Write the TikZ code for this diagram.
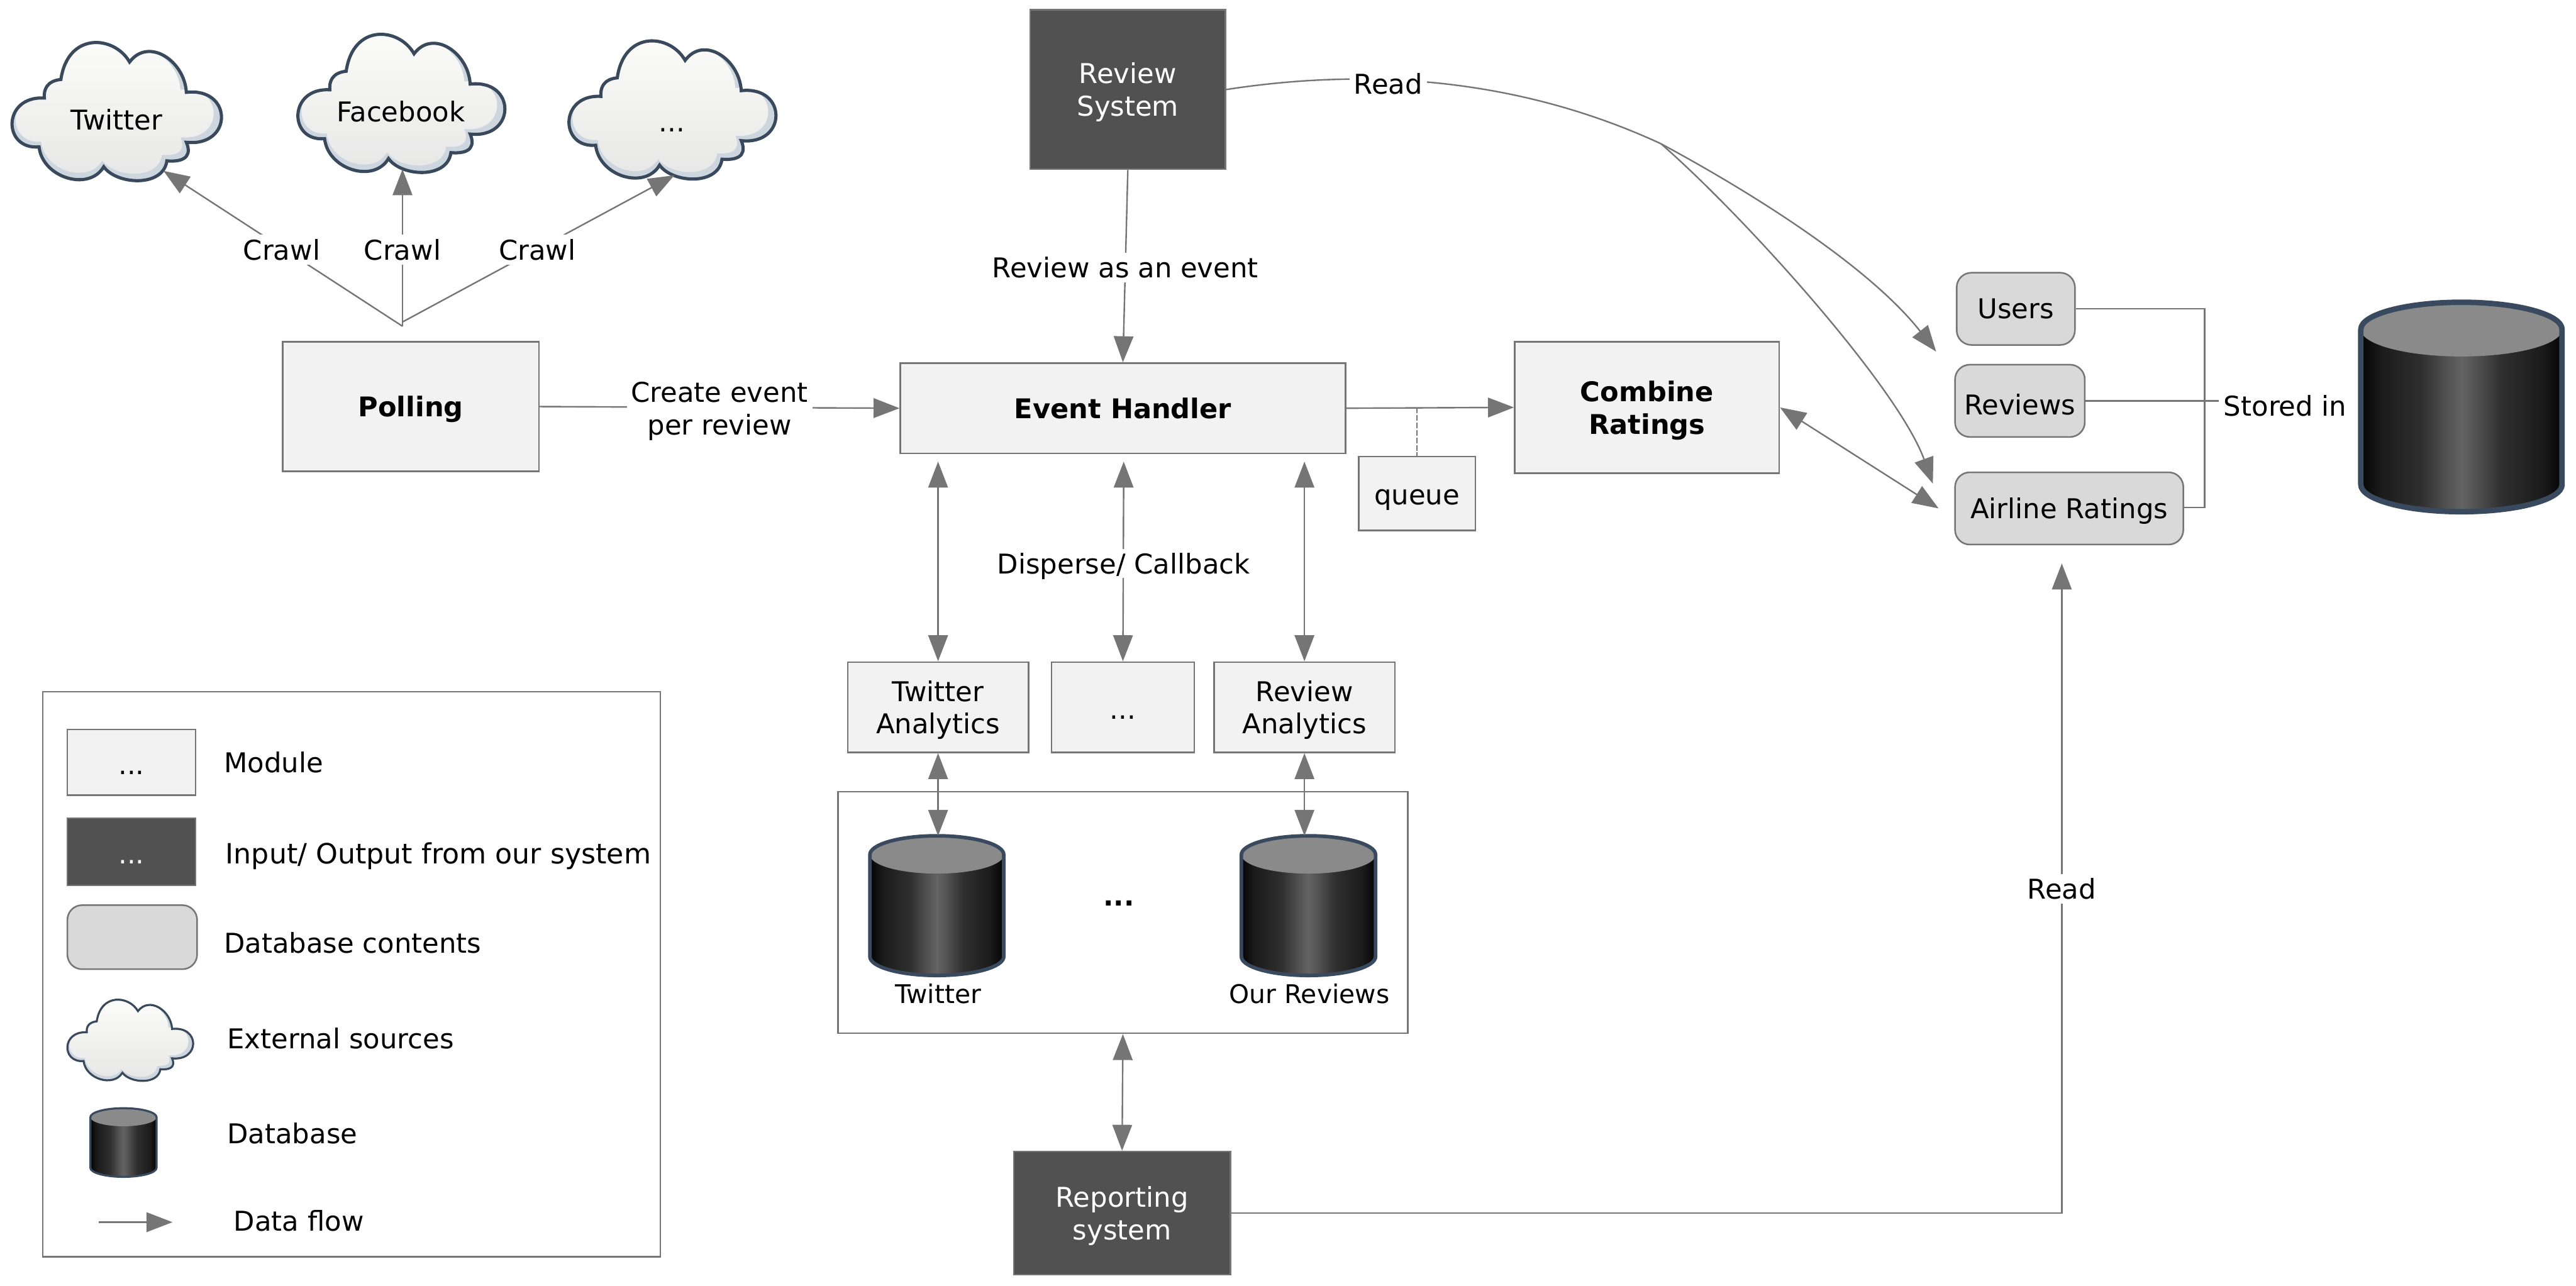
\documentclass[tikz,border=0pt]{standalone}
\usepackage{fontspec}
\setmainfont{DejaVu Sans}
\usetikzlibrary{arrows.meta}
\definecolor{linecol}{HTML}{757575}
\definecolor{modfill}{HTML}{F2F2F2}
\definecolor{darkfill}{HTML}{515151}
\definecolor{dbfill}{HTML}{D9D9D9}
\definecolor{cloudedge}{HTML}{39495B}
\definecolor{cloudshadow}{HTML}{CDD6DF}
\definecolor{cloudtop}{HTML}{FDFDFB}
\definecolor{cloudbot}{HTML}{E6E6E6}
\definecolor{cyledge}{HTML}{3A4A5E}
\definecolor{cyltop}{HTML}{8A8A8A}
\definecolor{cyla}{HTML}{040404}
\definecolor{cylb}{HTML}{1B1B1B}
\definecolor{cylc}{HTML}{2F2F2F}
\definecolor{cyld}{HTML}{555555}
\definecolor{cyle}{HTML}{636363}
\pgfdeclarehorizontalshading{dbside}{100bp}{color(0bp)=(cyla); color(25bp)=(cyla); color(30bp)=(cylb); color(40bp)=(cylc); color(47bp)=(cyld); color(50bp)=(cyle); color(53bp)=(cyld); color(60bp)=(cylc); color(70bp)=(cylb); color(75bp)=(cyla); color(100bp)=(cyla)}
\tikzset{
  every node/.style={font=\fontsize{9.45}{11.3}\selectfont, inner sep=0pt, align=center},
  modbox/.style={rectangle, draw=linecol, line width=.55pt, fill=modfill},
  darkbox/.style={rectangle, draw=linecol, line width=.55pt, fill=darkfill, text=white},
  dbbox/.style={rectangle, rounded corners=0.18cm, draw=linecol, line width=.55pt, fill=dbfill},
  frame/.style={rectangle, draw=linecol, line width=.55pt, fill=white},
  wire/.style={draw=linecol, line width=.52pt},
  flow/.style={wire, -{Triangle[length=9pt,width=6.8pt]}},
  flowboth/.style={wire, {Triangle[length=9pt,width=6.8pt]}-{Triangle[length=9pt,width=6.8pt]}},
  lab/.style={fill=white, inner sep=1.5pt},
  plain/.style={anchor=west},
  heavy/.style={font=\fontsize{9.4}{11.3}\selectfont\bfseries},
  lowtext/.style={text depth=0pt},
  dotstext/.style={text height=8.3pt,text depth=0pt},
  dbcaption/.style={font=\fontsize{8.9}{11.3}\selectfont},
}
\newcommand\cloudcurve{(.159,.408) .. controls (-.04,.39) and (-.04,.78) .. (.134,.758)
  .. controls (.15,.98) and (.37,1.08) .. (.439,.900)
  .. controls (.50,1.03) and (.72,1.05) .. (.737,.858)
  .. controls (.84,.87) and (.85,.80) .. (.829,.725)
  .. controls (1.05,.76) and (1.05,.33) .. (.829,.367)
  .. controls (.82,.14) and (.65,-.03) .. (.561,.150)
  .. controls (.49,-.04) and (.27,-.07) .. (.237,.275)
  .. controls (.17,.285) and (.155,.35) .. (.159,.408) -- cycle}
\newcommand\cloudshape[5]{% x y w h linewidth
  \begin{scope}[shift={(#1,#2)},xscale=#3,yscale=#4]
    \begin{scope}
      \clip \cloudcurve;
      \fill[cloudshadow] (-.1,-.1) rectangle (1.1,1.1);
      \begin{scope}[shift={(.49,0)},xscale=.945,yscale=.95,shift={(-.5,0)}]
        \shade[top color=cloudtop,bottom color=cloudbot] \cloudcurve;
      \end{scope}
    \end{scope}
    \draw[cloudedge,line width=#5] \cloudcurve;
  \end{scope}}
\newcommand\dbcyl[7]{% name x1 x2 ytop ybot h lw
  \pgfmathsetmacro\cylX{(#2+#3)/2}
  \pgfmathsetmacro\cylKx{0.5523*(#3-#2)/2}
  \pgfmathsetmacro\cylKy{0.5523*#6/2}
  \pgfmathsetmacro\cylYa{#4+#6/2}
  \pgfmathsetmacro\cylYb{#5-#6/2}
  \pgfmathsetmacro\cylYc{#4+#6}
  \pgfmathsetmacro\cylL{\cylX-\cylKx}
  \pgfmathsetmacro\cylR{\cylX+\cylKx}
  \pgfmathsetmacro\cylYau{\cylYa-\cylKy}
  \pgfmathsetmacro\cylYad{\cylYa+\cylKy}
  \pgfmathsetmacro\cylYbd{\cylYb+\cylKy}
  \def\cylsil{(#2,\cylYa) -- (#2,\cylYb) .. controls (#2,\cylYbd) and (\cylL,#5) .. (\cylX,#5)
     .. controls (\cylR,#5) and (#3,\cylYbd) .. (#3,\cylYb) -- (#3,\cylYa)
     .. controls (#3,\cylYau) and (\cylR,#4) .. (\cylX,#4)
     .. controls (\cylL,#4) and (#2,\cylYau) .. (#2,\cylYa) -- cycle}
  \shade[shading=dbside] \cylsil;
  \fill[cyltop] (#2,\cylYa) .. controls (#2,\cylYau) and (\cylL,#4) .. (\cylX,#4)
     .. controls (\cylR,#4) and (#3,\cylYau) .. (#3,\cylYa)
     .. controls (#3,\cylYad) and (\cylR,\cylYc) .. (\cylX,\cylYc)
     .. controls (\cylL,\cylYc) and (#2,\cylYad) .. (#2,\cylYa) -- cycle;
  \draw[cyledge,line width=#7,line join=round] \cylsil;
  \coordinate (#1) at (\cylX,#4);}
\begin{document}
\begin{tikzpicture}[x=0.02cm,y=-0.02cm]
\useasboundingbox (0,0) rectangle (1568,782.5);

% clouds
\cloudshape{6.5}{25}{129}{85}{1.1pt}
\cloudshape{180.5}{20}{127.5}{85}{1.1pt}
\cloudshape{345.5}{24}{127.5}{85}{1.1pt}
\node (cltw) at (71,73) {Twitter};
\node (clfb) at (244,68) {Facebook};
\node[dotstext] (clmore) at (409,73) {...};

% main boxes
\node[modbox,heavy,lowtext,minimum width=3.12cm,minimum height=1.58cm] (poll) at (250,247.5) {Polling};
\node[modbox,heavy,minimum width=5.42cm,minimum height=1.10cm] (eh) at (683.5,248.5) {Event Handler};
\node[modbox,heavy,lowtext,minimum width=3.22cm,minimum height=1.60cm] (comb) at (1002.5,248) {Combine\\Ratings};
\node[modbox,text height=7.5pt,text depth=0pt,minimum width=1.42cm,minimum height=0.90cm] (queue) at (862.5,300.5) {queue};
\node[darkbox,lowtext,minimum width=2.38cm,minimum height=1.94cm] (rs) at (686.5,54.5) {Review\\System};
\node[frame,minimum width=6.94cm,minimum height=2.94cm] (store) at (683.5,555.5) {};
\node[modbox,lowtext,minimum width=2.2cm,minimum height=1.1cm] (ta) at (571,430.5) {Twitter\\Analytics};
\node[modbox,dotstext,minimum width=1.74cm,minimum height=1.1cm] (more) at (683.5,430.5) {...};
\node[modbox,lowtext,minimum width=2.2cm,minimum height=1.1cm] (ra) at (794,430.5) {Review\\Analytics};
\node[darkbox,lowtext,minimum width=2.64cm,minimum height=1.5cm] (rep) at (683,738.5) {Reporting\\system};
\node[dbbox,minimum width=1.44cm,minimum height=.88cm] (users) at (1227,188) {Users};
\node[dbbox,text height=9.5pt,text depth=0pt,minimum width=1.58cm,minimum height=.88cm] (revs) at (1229.5,244) {Reviews};
\node[dbbox,lowtext,minimum width=2.78cm,minimum height=.88cm] (air) at (1259.5,309.5) {Airline Ratings};

% databases
\dbcyl{bigdb}{1437}{1559.5}{184}{311.5}{33}{1.9pt}
\dbcyl{twdb}{529.5}{611}{508.8}{593.8}{23}{1.25pt}
\dbcyl{ourdb}{755.6}{837.3}{508.8}{593.8}{23}{1.25pt}
\node[dbcaption] (twlab) at (571,605) {Twitter};
\node[dbcaption] (ourlab) at (797,605) {Our Reviews};
\node[heavy,dotstext] (dbmore) at (681,544) {...};

% free ends
\coordinate (apexa) at (245,198.6);
\coordinate (apexb) at (245,196);
\coordinate (twtip) at (99.5,104);
\coordinate (fbtip) at (245,103);
\coordinate (mrtip) at (410.5,106.7);
\coordinate (ehgap) at (684,281);
\coordinate (qtap) at (862.5,248);
\coordinate (split) at (1011,87.5);
\coordinate (usertip) at (1178.5,214);
\coordinate (airtip) at (1176.5,294.4);
\coordinate (airin) at (1180,309.5);
\coordinate (readtip) at (1255,343);
\coordinate (bus) at (1342,309);

% connectors
\draw[flow] (apexa) -- (twtip);
\draw[flow] (apexa) -- (fbtip);
\draw[flow] (apexb) -- (mrtip);
\draw[flow] (poll.east) -- (eh.west);
\draw[flow] (rs.south) -- (eh.north);
\draw[flow] (eh.east) -- (comb.west);
\draw[wire,dash pattern=on 2pt off .6pt] (qtap) -- (queue.north);
\draw[flowboth] (ta.north |- ehgap) -- (ta.north);
\draw[flowboth] (ehgap) -- (more.north);
\draw[flowboth] (ra.north |- ehgap) -- (ra.north);
\draw[flowboth] (ta.south) -- (ta.south |- twdb);
\draw[flowboth] (ra.south) -- (ra.south |- ourdb);
\draw[flowboth] (store.south) -- (rep.north);
\draw[flowboth] (comb.east) -- (airin);
\draw[flow] (rep.east) -| (readtip);
\draw[wire] (rs.east) .. controls (840,40) and (930,50) .. (split);
\draw[flow] (split) .. controls (1075,122) and (1140,165) .. (usertip);
\draw[flow] (split) .. controls (1060,130) and (1155,235) .. (airtip);
\draw[wire] (users.east) -| (bus) -- (air.east |- bus);

% connector labels
\node[lab] (cra) at (171.5,152) {Crawl};
\node[lab] (crb) at (245,152) {Crawl};
\node[lab] (crc) at (327,152) {Crawl};
\node[lab,lowtext] (ce) at (438,248.7) {Create event\\per review};
\node[lab] (rae) at (685,163) {Review as an event};
\node[lab,lowtext] (dc) at (684,343) {Disperse/ Callback};
\node[lab] (rda) at (845,51) {Read};
\node[lab] (rdb) at (1255,541) {Read};
\node[lab] (stored) at (1391,247) {Stored in};
\draw[wire] (revs.east) -- (stored.west |- revs.east);

% legend
\node[frame,minimum width=7.52cm,minimum height=6.88cm] (legend) at (214,593) {};
\node[modbox,dotstext,minimum width=1.56cm,minimum height=.8cm] (lmod) at (80,464) {...};
\node[darkbox,dotstext,minimum width=1.56cm,minimum height=.82cm] (ldark) at (80,518.5) {...};
\node[dbbox,minimum width=1.58cm,minimum height=.78cm] (lcont) at (80.5,570.5) {};
\cloudshape{40.5}{608}{77.5}{50}{.7pt}
\dbcyl{ldb}{55}{95.3}{674.6}{716.4}{11}{.7pt}
\coordinate (lfa) at (60,744);
\coordinate (lfb) at (105,744);
\draw[flow] (lfa) -- (lfb);
\node[plain] (ltmod) at (136,464) {Module};
\node[plain,font=\fontsize{9.65}{11.3}\selectfont] (ltio) at (137,521) {Input/ Output from our system};
\node[plain] (ltcont) at (136,574) {Database contents};
\node[plain] (ltext) at (138,632) {External sources};
\node[plain] (ltdb) at (138,690) {Database};
\node[plain] (ltflow) at (142,743) {Data flow};
\end{tikzpicture}
\end{document}
